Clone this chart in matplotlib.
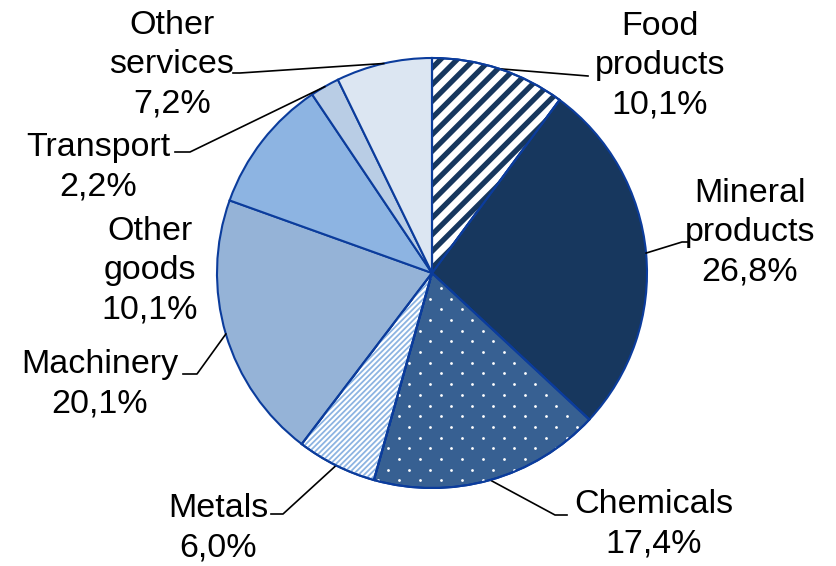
import matplotlib
matplotlib.use('Agg')
import matplotlib.pyplot as plt
from matplotlib.patches import Wedge
import numpy as np

W, H = 837, 566

labels = ['Food\nproducts', 'Mineral\nproducts', 'Chemicals', 'Metals',
          'Machinery', 'Other\ngoods', 'Transport', 'Other\nservices']
shares = [10.1, 26.8, 17.4, 6.0, 20.1, 10.1, 2.2, 7.2]
face_colors = ['white', '#17375E', '#376092', 'white',
               '#95B3D7', '#8DB4E2', '#B9CDE5', '#DCE6F2']

# stripe overlays: wedge index -> (hatch, hatch colour, hatch linewidth)
stripes = {
    0: ('//', '#17375E', 3.8),
    3: ('//////', '#8DB4E2', 1.3),
}
dotted = 2

# label centre positions (pixels from top-left) and leader elbow points
label_pos = [(660, 66), (750, 233), (654, 524), (218, 528),
             (100, 384), (150, 271), (98, 167), (172, 65)]
leader_elbow = [(588, 76), (682, 242), (555, 515), (283, 514),
                (197, 374), None, (190, 152), (240, 73)]
leader_end = [(588, 76), (688, 242), (567, 515), (271, 514),
              (183, 374), None, (175, 152), (233, 73)]

edge = '#0B3C9C'
cx, cy, r = 432, H - 273, 215

plt.rcParams['font.family'] = ['Liberation Sans', 'DejaVu Sans']
fig = plt.figure(figsize=(W / 100, H / 100), dpi=100)
ax = fig.add_axes([0, 0, 1, 1])

wedges, _ = ax.pie(shares, colors=face_colors, startangle=90, counterclock=False,
                   center=(cx, cy), radius=r,
                   wedgeprops=dict(edgecolor=edge, linewidth=1.5))


def outline(w):
    ax.add_patch(Wedge((cx, cy), r, w.theta1, w.theta2, facecolor='none',
                       edgecolor=edge, linewidth=1.5, zorder=w.get_zorder() + 0.2))


for i, (hatch, hcol, hlw) in stripes.items():
    w = wedges[i]
    plt.rcParams['hatch.linewidth'] = hlw
    over = Wedge((cx, cy), r, w.theta1, w.theta2, facecolor='none',
                 edgecolor=hcol, linewidth=0, hatch=hatch, zorder=w.get_zorder() + 0.1)
    if hasattr(over, 'set_hatch_linewidth'):
        over.set_hatch_linewidth(hlw)
    ax.add_patch(over)
    outline(w)

# white dot grid on the chemicals wedge, staggered rows
w = wedges[dotted]
gx, gy = np.meshgrid(np.arange(0, W, 21.0), np.arange(0, H, 10.7))
gx = gx + (np.arange(gx.shape[0])[:, None] % 2) * 10.5
dots = ax.scatter(gx.ravel(), gy.ravel(), s=4, color='white', linewidths=0,
                  zorder=w.get_zorder() + 0.1)
dots.set_clip_path(w)
outline(w)

for i, (name, val) in enumerate(zip(labels, shares)):
    w = wedges[i]
    mid = np.deg2rad((w.theta1 + w.theta2) / 2)
    lx, ly = label_pos[i]
    ax.text(lx, H - ly, f'{name}\n{val:.1f}'.replace('.', ',') + '%',
            ha='center', va='center', fontsize=24.5, linespacing=1.34, color='black')
    if leader_elbow[i] is not None:
        px, py = cx + r * np.cos(mid), cy + r * np.sin(mid)
        ex, ey = leader_elbow[i]
        tx, ty = leader_end[i]
        ax.plot([px, ex, tx], [py, H - ey, H - ty], color='black', lw=1.2, zorder=1)

ax.set_xlim(0, W)
ax.set_ylim(0, H)
ax.set_aspect('equal')
ax.axis('off')

fig.savefig('out.png', dpi=100)
